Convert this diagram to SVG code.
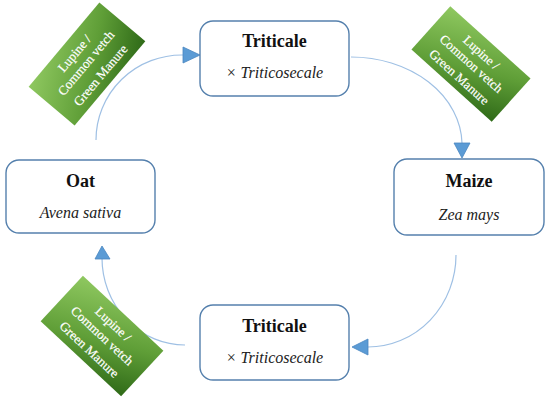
<svg xmlns="http://www.w3.org/2000/svg" width="550" height="402" viewBox="0 0 550 402">
<defs>
<linearGradient id="g" x1="0" y1="0" x2="1" y2="1">
<stop offset="0" stop-color="#8fc860"/>
<stop offset="0.55" stop-color="#5f9e37"/>
<stop offset="1" stop-color="#2f6a18"/>
</linearGradient>
<style>
.node{fill:#fff;stroke:#5580ad;stroke-width:1.4}
.t{font-family:"Liberation Serif",serif;font-weight:bold;font-size:18px;fill:#111;text-anchor:middle}
.s{font-family:"Liberation Serif",serif;font-style:italic;font-size:16px;fill:#222;text-anchor:middle}
.arc{fill:none;stroke:#9fc0e4;stroke-width:1.2}
.head{fill:#5b9bd5;stroke:#4a86c0;stroke-width:0.8}
.gb{fill:url(#g)}
.gt{font-family:"Liberation Serif",serif;font-size:13px;fill:#fff;text-anchor:middle;stroke:#fff;stroke-width:0.2}
</style>
</defs>
<rect width="550" height="402" fill="#fff"/>
<g id="connectors">
<path class="arc" d="M96,140 A86,85 0 0 1 183,55"/>
<polygon class="head" points="200,55 183,47 183,63"/>
<path class="arc" d="M351,57 A111,88 0 0 1 462,143"/>
<polygon class="head" points="462,158 454,143 470,143"/>
<path class="arc" d="M456,255 A88,92 0 0 1 368,347"/>
<polygon class="head" points="352,347 368,339 368,355"/>
<path class="arc" d="M185,345 A83,87 0 0 1 102,258"/>
<polygon class="head" points="102,246 95,259 110,259"/>
</g>
<g id="green1" transform="translate(87,64) rotate(-50)">
<rect class="gb" x="-55" y="-30" width="110" height="60"/>
<text class="gt" y="-12">Lupine /</text>
<text class="gt" y="3">Common vetch</text>
<text class="gt" y="22">Green Manure</text>
</g>
<g id="green2" transform="translate(471,64) rotate(42)">
<rect class="gb" x="-54" y="-29" width="108" height="58"/>
<text class="gt" y="-11">Lupine /</text>
<text class="gt" y="4">Common vetch</text>
<text class="gt" y="22">Green Manure</text>
</g>
<g id="green3" transform="translate(102,336) rotate(43)">
<rect class="gb" x="-55" y="-31" width="110" height="62"/>
<text class="gt" y="-12">Lupine /</text>
<text class="gt" y="4">Common vetch</text>
<text class="gt" y="23">Green Manure</text>
</g>
<g id="triticale-top">
<rect class="node" x="200" y="21" width="149" height="75" rx="13"/>
<text class="t" x="274.5" y="47">Triticale</text>
<text class="s" x="274.5" y="78">× Triticosecale</text>
</g>
<g id="maize">
<rect class="node" x="394" y="159" width="150" height="76" rx="13"/>
<text class="t" x="469" y="187">Maize</text>
<text class="s" x="469" y="220">Zea mays</text>
</g>
<g id="oat">
<rect class="node" x="6" y="160" width="149" height="73" rx="13"/>
<text class="t" x="80.5" y="187">Oat</text>
<text class="s" x="80.5" y="218">Avena sativa</text>
</g>
<g id="triticale-bottom">
<rect class="node" x="200" y="305" width="149" height="75" rx="13"/>
<text class="t" x="274.5" y="332">Triticale</text>
<text class="s" x="274.5" y="363">× Triticosecale</text>
</g>
</svg>
